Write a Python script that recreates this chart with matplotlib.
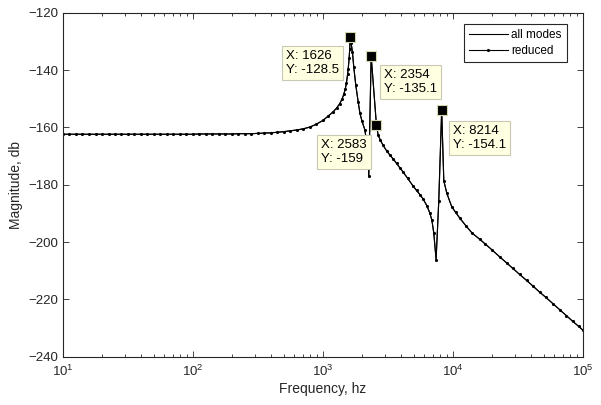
import matplotlib
matplotlib.use("Agg")
import matplotlib.pyplot as plt

plt.rcParams['font.family'] = ['Liberation Sans', 'DejaVu Sans']

# frequency sweep (hz) and magnitude (db)
freq = [10, 11.2, 12.6, 14.1, 15.8, 17.8, 20, 22.4, 25.1, 28.2, 31.6, 35.5, 39.8,
        44.7, 50.1, 56.2, 63.1, 70.8, 79.4, 89.1, 100, 112, 126, 141, 158, 178,
        200, 224, 251, 282, 316, 355, 398, 447, 501, 562, 631, 708, 794, 891,
        1000, 1090, 1200, 1280, 1350, 1410, 1450, 1490, 1520, 1550, 1567, 1594,
        1610, 1626, 1650, 1690, 1730, 1793, 1870, 1928, 2000, 2103, 2200, 2258,
        2354, 2583, 2661, 2760, 2910, 3100, 3300, 3474, 3700, 3900, 4148, 4500,
        4920, 5260, 5600, 5916, 6310, 6650, 6900, 7140, 7440, 7800, 8214, 8530,
        9000, 9820, 10500, 11300, 12600, 14100, 16100, 17800, 20000, 23000,
        26000, 29000, 32700, 37000, 41500, 46700, 52000, 59000, 66500, 75000,
        84000, 93000, 100000]
mag_all = [-162.4, -162.4, -162.4, -162.4, -162.4, -162.4, -162.4, -162.4, -162.4,
           -162.4, -162.4, -162.4, -162.4, -162.4, -162.4, -162.4, -162.4, -162.4,
           -162.4, -162.4, -162.4, -162.3, -162.3, -162.3, -162.3, -162.3, -162.3,
           -162.2, -162.2, -162.2, -162.1, -162.0, -161.9, -161.7, -161.5, -161.2,
           -160.9, -160.5, -159.9, -158.9, -157.6, -156.2, -154.6, -153.2, -151.7,
           -150.0, -148.4, -146.5, -144.4, -141.5, -139.6, -135.9, -132.5, -128.5,
           -130.5, -133.8, -139.0, -145.3, -151.1, -155.0, -157.8, -160.8, -166.5,
           -176.8, -135.1, -159.0, -162.6, -164.3, -166.3, -168.2, -169.8, -171.0,
           -172.6, -174.0, -175.6, -177.8, -180.3, -182.0, -183.5, -185.0, -187.3,
           -189.8, -192.3, -196.8, -206.1, -185.8, -154.1, -178.6, -183.0, -187.7,
           -189.6, -191.6, -194.3, -196.9, -199.0, -200.7, -202.7, -205.2, -207.3,
           -209.2, -211.3, -213.4, -215.4, -217.5, -219.3, -221.5, -223.6, -225.7,
           -227.7, -229.4, -230.7]
mag_reduced = list(mag_all)

tip_x = [1626, 2354, 2583, 8214]
tip_y = [-128.5, -135.1, -159, -154.1]
# box text left / vertical centre, figure pixels from top-left
tip_pos = [(286, 63), (384, 82), (321, 152), (453, 138)]

W, H = 601, 405
fig = plt.figure(figsize=(W / 100, H / 100), dpi=100)
ax = fig.add_axes([63 / W, 1 - 356.7 / H, 519.7 / W, 344 / H])

ax.semilogx(freq, mag_all, '-', color='black', lw=0.8, label='all modes')
ax.semilogx(freq, mag_reduced, '-', color='black', lw=0.8, marker='.',
            ms=2.5, label='reduced')

ax.set_xlim(10, 1e5)
ax.set_ylim(-240, -120)
ax.set_yticks(range(-240, -119, 20))

gray = '#262626'
for s in ax.spines.values():
    s.set_color(gray)
    s.set_linewidth(0.8)
ax.tick_params(which='both', direction='in', top=True, right=True,
               colors=gray, labelsize=9.5, width=0.6)
ax.tick_params(which='major', length=4.5)
ax.tick_params(which='minor', length=2.5)
ax.tick_params(axis='x', pad=5)

ax.set_xlabel('Frequency, hz', fontsize=10, color=gray, labelpad=2)
ax.set_ylabel('Magnitude, db', fontsize=10, color=gray, labelpad=4)

leg = ax.legend(loc='upper right', bbox_to_anchor=(0.9698, 0.967),
                borderaxespad=0, fontsize=8.5, handlelength=3.3,
                handletextpad=0.3, fancybox=False, framealpha=1,
                borderpad=0.45, labelspacing=0.3)
leg.get_frame().set_edgecolor(gray)
leg.get_frame().set_linewidth(0.8)

ax.plot(tip_x, tip_y, 's', ms=7, mfc='black', mec='#d8d8b0', mew=0.8,
        zorder=5)
for x, y, (px, py) in zip(tip_x, tip_y, tip_pos):
    lbl = f"X: {x}\nY: {y:g}"
    fig.text(px / W, 1 - py / H, lbl, ha='left', va='center', fontsize=9.5,
             linespacing=1.15,
             bbox=dict(boxstyle='square,pad=0.3', fc='#ffffe1', ec='#c8c8b4',
                       lw=0.8))

fig.savefig('out.png', dpi=100)
